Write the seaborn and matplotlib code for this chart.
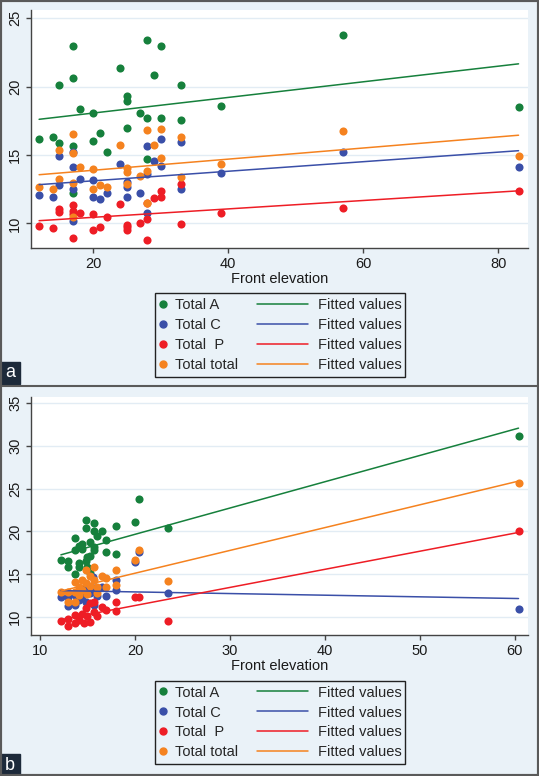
import numpy as np
import pandas as pd
import seaborn as sns
import matplotlib.pyplot as plt
from matplotlib.lines import Line2D
from matplotlib.patches import Rectangle

sns.set_style("ticks")
plt.rcParams['font.family'] = ['Liberation Sans', 'DejaVu Sans']

W, H = 539, 776

series = ['Total A', 'Total C', 'Total  P', 'Total total']
colors = ['#16803c', '#3a4fa8', '#ee1d25', '#f5821f']

# Panel a: one front elevation per subject, four scores each
a_front = [12, 14, 15, 15, 17, 17, 17, 17, 18, 20, 20, 21, 22, 24, 25, 25, 25,
           27, 28, 28, 28, 29, 30, 30, 33, 33, 39, 57, 83]
a_total_a = [16.15, 16.3, 15.9, 20.1, 22.96, 20.6, 15.66, 12.2, 18.36, 18.07, 16.05,
             16.64, 15.24, 21.37, 19.29, 18.95, 16.96, 18.07, 23.38, 17.67, 14.73,
             20.88, 22.96, 17.67, 20.15, 17.57, 18.55, 23.77, 18.5]
a_total_c = [12.06, 11.9, 12.84, 14.95, 15.2, 14.14, 12.55, 10.2, 13.24, 13.14, 11.93,
             11.76, 12.23, 14.34, 13.04, 12.67, 11.93, 12.23, 15.66, 13.6, 10.79,
             14.58, 16.15, 14.21, 15.93, 12.55, 13.65, 15.24, 14.14]
a_total_p = [9.8, 9.63, 11.08, 10.81, 11.37, 10.9, 10.7, 8.92, 10.76, 10.66, 9.54,
             9.73, 10.44, 11.45, 9.85, 9.49, 9.7, 10.02, 11.5, 10.35, 8.82,
             11.82, 11.93, 12.35, 12.87, 9.93, 10.76, 11.13, 12.35]
a_total_t = [12.67, 12.55, 13.24, 15.37, 16.54, 15.12, 12.96, 10.46, 14.14, 13.95, 12.55,
             12.79, 12.67, 15.74, 14.07, 13.77, 12.87, 13.46, 16.84, 13.85, 11.49,
             15.74, 16.93, 14.76, 16.35, 13.36, 14.34, 16.76, 14.95]

# Panel b: points read per series
b_a_x = [12.2, 12.9, 12.9, 13.7, 13.7, 13.7, 14.1, 14.1, 14.1, 14.4, 14.4, 14.8, 14.8,
         14.8, 15.0, 15.0, 15.3, 15.3, 15.3, 15.7, 15.7, 15.7, 15.7, 16.0, 16.5, 16.9,
         16.9, 18.0, 18.0, 20.0, 20.4, 23.5, 60.4]
b_a_y = [16.7, 16.5, 15.9, 19.2, 17.8, 15.0, 18.3, 16.3, 15.9, 18.5, 18.0, 21.3, 20.4,
         16.5, 17.0, 15.9, 18.8, 17.1, 15.2, 21.0, 20.0, 18.2, 17.8, 19.5, 20.1, 19.0,
         17.6, 20.6, 17.4, 21.1, 23.8, 20.4, 31.2]
b_c_x = [12.2, 12.9, 12.9, 13.7, 13.7, 14.1, 14.4, 14.8, 14.8, 15.0, 15.3, 15.6, 15.7,
         15.7, 16.0, 16.5, 16.9, 18.0, 18.0, 20.0, 20.4, 23.5, 60.4]
b_c_y = [12.3, 11.3, 12.3, 12.6, 11.4, 12.0, 12.5, 11.8, 13.5, 13.0, 12.8, 14.7, 11.4,
         13.4, 12.4, 13.5, 12.4, 13.1, 14.3, 16.4, 17.6, 12.8, 10.9]
b_p_x = [12.2, 12.9, 12.9, 13.7, 13.7, 14.1, 14.4, 14.6, 14.8, 15.0, 15.3, 15.3, 15.7,
         15.7, 16.0, 16.5, 16.9, 18.0, 18.0, 20.0, 20.4, 23.5, 60.4]
b_p_y = [9.5, 9.0, 9.8, 10.2, 9.3, 9.7, 10.4, 9.3, 11.0, 10.1, 11.6, 9.4, 11.8,
         10.6, 10.1, 11.2, 10.8, 11.7, 10.7, 12.3, 12.3, 9.5, 20.0]
b_t_x = [12.2, 12.9, 12.9, 13.7, 13.7, 13.7, 14.1, 14.1, 14.4, 14.4, 14.8, 14.8, 15.0,
         15.3, 15.3, 15.7, 15.7, 16.0, 16.0, 16.5, 16.9, 16.9, 18.0, 18.0, 20.0, 20.4,
         23.5, 60.4]
b_t_y = [12.9, 12.9, 11.8, 14.1, 12.9, 11.8, 13.5, 12.6, 14.3, 13.1, 15.5, 14.0, 12.7,
         14.8, 13.6, 15.9, 14.3, 13.5, 12.8, 14.8, 14.5, 13.5, 15.5, 13.7, 16.7, 17.8,
         14.2, 25.6]


def long_frame(parts):
    rows = []
    for name, xs, ys in parts:
        rows.append(pd.DataFrame({'front': xs, 'value': ys, 'series': name}))
    return pd.concat(rows, ignore_index=True)


df_a = long_frame([(series[0], a_front, a_total_a), (series[1], a_front, a_total_c),
                   (series[2], a_front, a_total_p), (series[3], a_front, a_total_t)])
df_b = long_frame([(series[0], b_a_x, b_a_y), (series[1], b_c_x, b_c_y),
                   (series[2], b_p_x, b_p_y), (series[3], b_t_x, b_t_y)])

fig = plt.figure(figsize=(W / 100, H / 100), dpi=100, facecolor='#eaf2f8')


def draw_panel(top_px, df, xlim, ylim, xticks, yticks):
    ax = fig.add_axes([31 / W, (H - top_px - 238) / H, 497 / W, 238 / H])
    ax.set_facecolor('white')
    for name, col in zip(series, colors):
        d = df[df['series'] == name]
        sns.scatterplot(data=d, x='front', y='value', color=col, s=34,
                        linewidth=0, ax=ax, zorder=3)
    for name, col in zip(series, colors):
        d = df[df['series'] == name]
        sns.regplot(data=d, x='front', y='value', scatter=False, ci=None,
                    color=col, line_kws={'lw': 1.1, 'zorder': 4}, ax=ax)
    ax.set_xlim(*xlim)
    ax.set_ylim(*ylim)
    ax.set_xticks(xticks)
    ax.set_yticks(yticks)
    ax.yaxis.grid(True, color='#e2ecf4', lw=1)
    ax.set_axisbelow(True)
    for s in ['top', 'right']:
        ax.spines[s].set_visible(False)
    for s in ['left', 'bottom']:
        ax.spines[s].set_color('#444444')
        ax.spines[s].set_linewidth(1)
    ax.tick_params(direction='out', length=3.5, width=1, color='#444444',
                   labelsize=10.5, pad=3, labelcolor='#1a1a1a')
    for lab in ax.get_yticklabels():
        lab.set_rotation(90)
        lab.set_va('center')
    ax.set_xlabel('Front elevation', fontsize=10.5, labelpad=1, color='#1a1a1a')
    ax.set_ylabel('')
    return ax


def add_legend(top_px, bottom_px):
    yc = (H - (top_px + bottom_px) / 2) / H
    marks = [Line2D([], [], ls='none', marker='o', ms=5, color=c) for c in colors]
    lines = [Line2D([], [], color=c, lw=1.1) for c in colors]
    common = dict(loc='center left', frameon=False, borderpad=0, borderaxespad=0,
                  labelspacing=0.41, fontsize=10.5)
    fig.legend(marks, series, bbox_to_anchor=(156 / W, yc), handlelength=0.95,
               handletextpad=0.35, **common)
    fig.legend(lines, ['Fitted values'] * 4, bbox_to_anchor=(257 / W, yc),
               handlelength=3.5, handletextpad=0.68, **common)
    fig.add_artist(Rectangle((155 / W, (H - bottom_px) / H), 250 / W,
                             (bottom_px - top_px) / H, transform=fig.transFigure,
                             fill=False, edgecolor='#222222', lw=1))


def add_tag(letter, bottom_px):
    fig.add_artist(Rectangle((0, (H - bottom_px) / H), 20 / W, 22 / H,
                             transform=fig.transFigure, color='#1d2a3a'))
    fig.text(10 / W, (H - bottom_px + 11) / H, letter, color='white',
             ha='center', va='center', fontsize=13)


draw_panel(10, df_a, (10.8, 84.4), (8.2, 25.6), [20, 40, 60, 80], [10, 15, 20, 25])
draw_panel(397, df_b, (9.05, 61.4), (7.9, 35.7), [10, 20, 30, 40, 50, 60],
           [10, 15, 20, 25, 30, 35])

add_legend(293, 377)
add_legend(681, 764)

add_tag('a', 384)
add_tag('b', 776)

fig.add_artist(Line2D([0, 1], [(H - 386) / H] * 2, transform=fig.transFigure,
                      color='#5a5a5a', lw=1.5))
fig.add_artist(Rectangle((0, 0), 1, 1, transform=fig.transFigure, fill=False,
                         edgecolor='#5a5a5a', lw=3))

fig.savefig('out.png', dpi=100, facecolor=fig.get_facecolor())
